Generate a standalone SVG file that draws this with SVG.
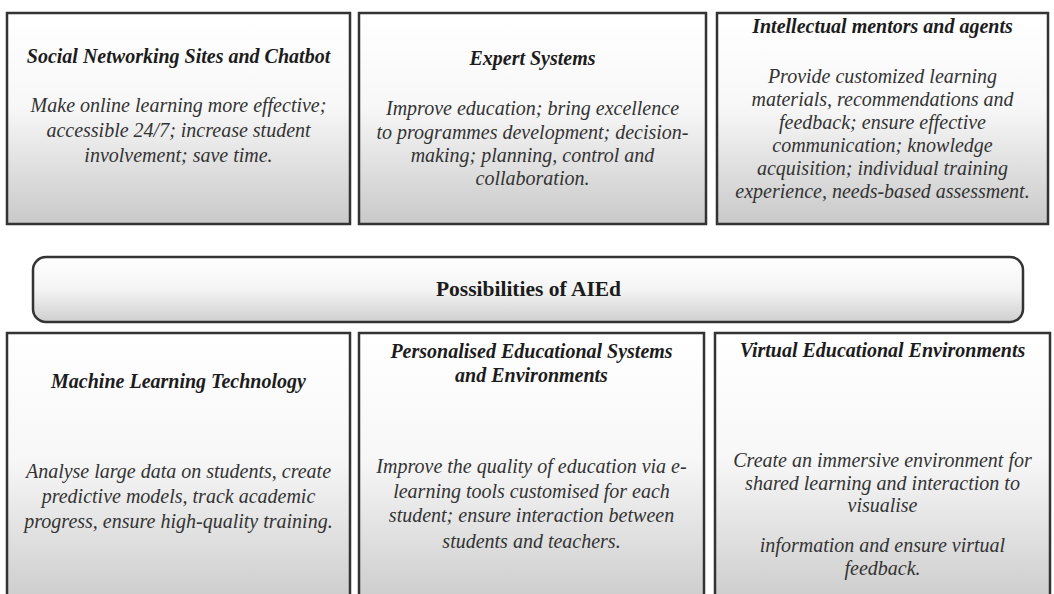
<svg xmlns="http://www.w3.org/2000/svg" width="1054" height="594" viewBox="0 0 1054 594">
  <defs>
    <linearGradient id="boxFill" x1="0" y1="0" x2="0" y2="1">
      <stop offset="0" stop-color="#ffffff"/>
      <stop offset="0.45" stop-color="#f7f7f7"/>
      <stop offset="1" stop-color="#c9c9c9"/>
    </linearGradient>
    <linearGradient id="pillFill" x1="0" y1="0" x2="0" y2="1">
      <stop offset="0" stop-color="#ffffff"/>
      <stop offset="0.5" stop-color="#f4f4f4"/>
      <stop offset="1" stop-color="#cfcfcf"/>
    </linearGradient>
    <style>
      .box { fill: url(#boxFill); stroke: #333333; stroke-width: 2.5; }
      .pill { fill: url(#pillFill); stroke: #333333; stroke-width: 2.5; }
      text { font-family: 'Liberation Serif', 'DejaVu Serif', serif; }
      .title { font-size: 20px; font-weight: bold; font-style: italic; fill: #1c1c1c; text-anchor: middle; }
      .body { font-size: 20px; font-style: italic; fill: #333333; text-anchor: middle; }
      .main { font-size: 21.5px; font-weight: bold; fill: #1c1c1c; text-anchor: middle; }
    </style>
  </defs>

  <rect x="0" y="0" width="1054" height="594" fill="#ffffff"/>

  <g id="connectors"></g>

  <g id="node-social" font-family="Liberation Serif, serif">
    <rect class="box" x="7" y="13" width="343" height="211"/>
    <text class="title" x="178.5" y="63">Social Networking Sites and Chatbot</text>
    <text class="body" x="178.5" y="112">Make online learning more effective;</text>
    <text class="body" x="178.5" y="137">accessible 24/7; increase student</text>
    <text class="body" x="178.5" y="162">involvement; save time.</text>
  </g>

  <g id="node-expert" font-family="Liberation Serif, serif">
    <rect class="box" x="359" y="13" width="347" height="211"/>
    <text class="title" x="532.5" y="65">Expert Systems</text>
    <text class="body" x="532.5" y="115">Improve education; bring excellence</text>
    <text class="body" x="532.5" y="138.5">to programmes development; decision-</text>
    <text class="body" x="532.5" y="162">making; planning, control and</text>
    <text class="body" x="532.5" y="185">collaboration.</text>
  </g>

  <g id="node-mentors" font-family="Liberation Serif, serif">
    <rect class="box" x="717" y="13" width="331" height="211"/>
    <text class="title" x="882.5" y="33">Intellectual mentors and agents</text>
    <text class="body" x="882.5" y="83">Provide customized learning</text>
    <text class="body" x="882.5" y="106">materials, recommendations and</text>
    <text class="body" x="882.5" y="129">feedback; ensure effective</text>
    <text class="body" x="882.5" y="152">communication; knowledge</text>
    <text class="body" x="882.5" y="175">acquisition; individual training</text>
    <text class="body" x="882.5" y="198">experience, needs-based assessment.</text>
  </g>

  <g id="node-possibilities" font-family="Liberation Serif, serif">
    <rect class="pill" x="33" y="257" width="990" height="65" rx="13" ry="13"/>
    <text class="main" x="528.5" y="296">Possibilities of AIEd</text>
  </g>

  <g id="node-ml" font-family="Liberation Serif, serif">
    <rect class="box" x="7" y="333" width="343" height="280"/>
    <text class="title" x="178.5" y="388">Machine Learning Technology</text>
    <text class="body" x="178.5" y="478">Analyse large data on students, create</text>
    <text class="body" x="178.5" y="503">predictive models, track academic</text>
    <text class="body" x="178.5" y="528">progress, ensure high-quality training.</text>
  </g>

  <g id="node-personalised" font-family="Liberation Serif, serif">
    <rect class="box" x="359" y="333" width="345" height="280"/>
    <text class="title" x="531.5" y="358">Personalised Educational Systems</text>
    <text class="title" x="531.5" y="382">and Environments</text>
    <text class="body" x="531.5" y="473">Improve the quality of education via e-</text>
    <text class="body" x="531.5" y="497.5">learning tools customised for each</text>
    <text class="body" x="531.5" y="522">student; ensure interaction between</text>
    <text class="body" x="531.5" y="548">students and teachers.</text>
  </g>

  <g id="node-virtual" font-family="Liberation Serif, serif">
    <rect class="box" x="715" y="333" width="335" height="280"/>
    <text class="title" x="882.5" y="357">Virtual Educational Environments</text>
    <text class="body" x="882.5" y="467">Create an immersive environment for</text>
    <text class="body" x="882.5" y="489.5">shared learning and interaction to</text>
    <text class="body" x="882.5" y="512">visualise</text>
    <text class="body" x="882.5" y="552">information and ensure virtual</text>
    <text class="body" x="882.5" y="575">feedback.</text>
  </g>
</svg>
